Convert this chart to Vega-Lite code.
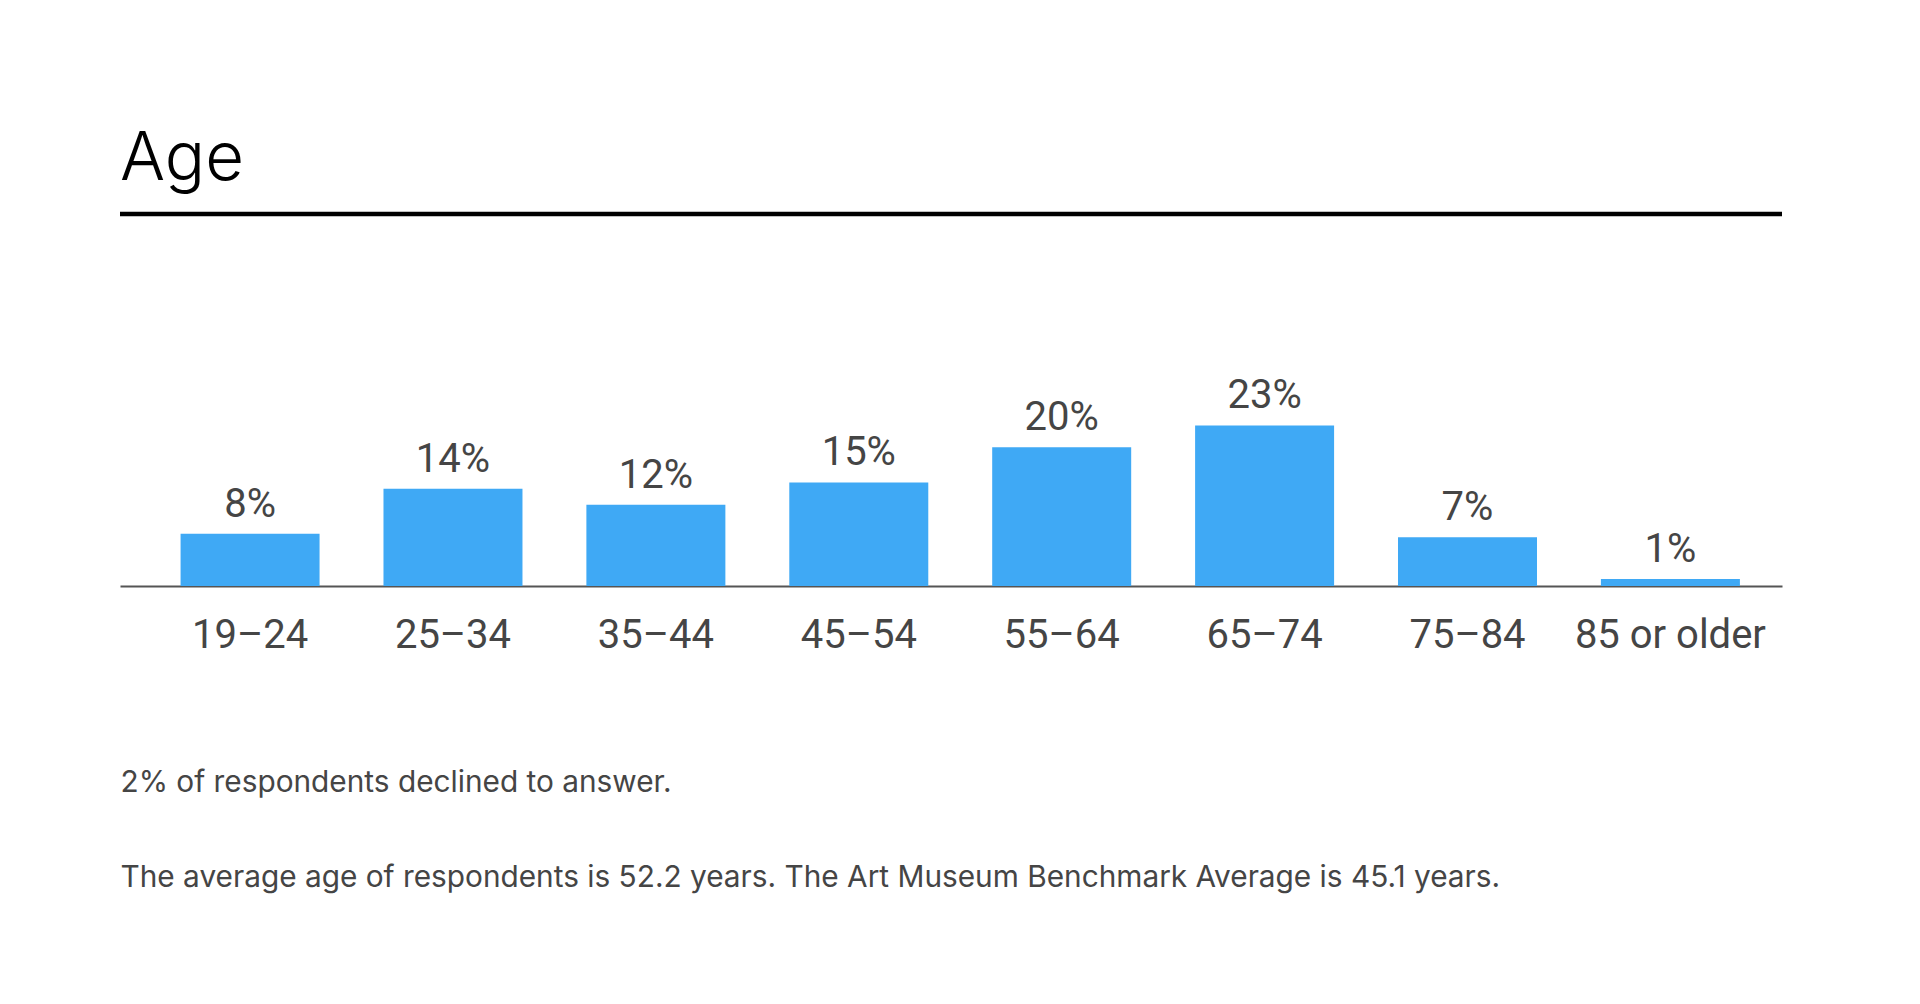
{
  "$schema": "https://vega.github.io/schema/vega-lite/v6.json",
  "autosize": {"type": "none"},
  "padding": {"left": 120, "top": 214, "right": 138, "bottom": 418},
  "width": 1662,
  "height": 372,
  "background": "white",
  "config": {"view": {"stroke": null}},
  "title": {
    "text": "Age",
    "anchor": "start",
    "frame": "group",
    "orient": "top",
    "offset": -35,
    "baseline": "alphabetic",
    "fontSize": 67,
    "font": "Inter",
    "fontWeight": 300,
    "color": "#000000"
  },
  "data": {
    "values": [
      {"age": "19–24", "pct": 7.5, "label": "8%"},
      {"age": "25–34", "pct": 14.0, "label": "14%"},
      {"age": "35–44", "pct": 11.7, "label": "12%"},
      {"age": "45–54", "pct": 14.9, "label": "15%"},
      {"age": "55–64", "pct": 19.95, "label": "20%"},
      {"age": "65–74", "pct": 23.1, "label": "23%"},
      {"age": "75–84", "pct": 7.0, "label": "7%"},
      {"age": "85 or older", "pct": 1.0, "label": "1%"}
    ]
  },
  "layer": [
    {
      "mark": {"type": "bar", "color": "#3FA9F5"},
      "encoding": {
        "x": {
          "field": "age",
          "type": "nominal",
          "sort": null,
          "scale": {"paddingInner": 0.315, "paddingOuter": 0.253, "align": 0.59},
          "axis": {
            "title": [
              "2% of respondents declined to answer.",
              "The average age of respondents is 52.2 years. The Art Museum Benchmark Average is 45.1 years."
            ],
            "labelAngle": 0,
            "labelFontSize": 40,
            "labelFont": "Roboto",
            "labelColor": "#454545",
            "labelPadding": 29,
            "labelLimit": 600,
            "ticks": false,
            "tickSize": 0,
            "grid": false,
            "domainColor": "#555555",
            "domainWidth": 2,
            "titleFontSize": 29.8,
            "titleFont": "Inter",
            "titleFontWeight": "normal",
            "titleColor": "#454545",
            "titleAnchor": "start",
            "titleAlign": "left",
            "titleLineHeight": 95,
            "titlePadding": 112
          }
        },
        "y": {
          "field": "pct",
          "type": "quantitative",
          "scale": {"domain": [0, 53.5], "nice": false},
          "axis": null
        }
      }
    },
    {
      "mark": {
        "type": "text",
        "baseline": "alphabetic",
        "dy": -17,
        "fontSize": 40,
        "font": "Roboto",
        "color": "#454545"
      },
      "encoding": {
        "x": {"field": "age", "type": "nominal", "sort": null},
        "y": {"field": "pct", "type": "quantitative"},
        "text": {"field": "label"}
      }
    },
    {
      "data": {"values": [{}]},
      "mark": {"type": "rule", "color": "#000000", "strokeWidth": 4.5},
      "encoding": {"y": {"datum": 53.5}}
    }
  ]
}
